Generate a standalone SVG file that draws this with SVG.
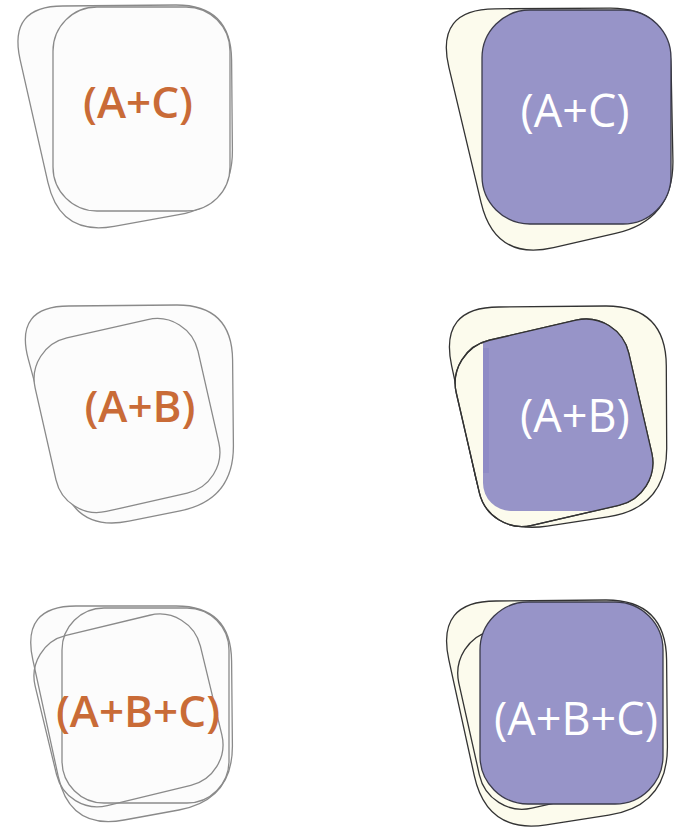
<svg xmlns="http://www.w3.org/2000/svg" width="675" height="833" viewBox="0 0 675 833">
  <defs>
    <style>
      .sk { fill: #fcfcfc; stroke: #8a8a8a; stroke-width: 1.3; }
      .sko { fill: none; stroke: #8a8a8a; stroke-width: 1.3; }
      .cr { fill: #fcfbed; stroke: #333333; stroke-width: 1.3; }
      .cro { fill: none; stroke: #333333; stroke-width: 1.3; }
      .pu { fill: #9794c8; stroke: #3a3a4a; stroke-width: 1.3; }
      .pf { fill: #9794c8; stroke: none; }
      .lo { font-family: "Open Sans", "Liberation Sans", sans-serif; font-weight: 600; font-size: 44px; fill: #c96b37; text-anchor: middle; }
      .lw { font-family: "Open Sans", "Liberation Sans", sans-serif; font-weight: 400; font-size: 45px; fill: #ffffff; text-anchor: middle; }
    </style>
    <clipPath id="clipC2">
      <rect x="483" y="280" width="200" height="231" rx="28"/>
    </clipPath>
  </defs>
  <rect x="0" y="0" width="675" height="833" fill="#ffffff"/>

  <!-- Row 1 left: (A+C) -->
  <g id="r1-left">
    <path class="sk" d="M63,6 L176,5 Q231,5 231.6,60 L232.4,150 Q233,205 178.9,214.7 L114.1,226.3 Q60,236 47.9,182.4 L20.1,59.6 Q8,6 63,6 Z"/>
    <rect class="sk" x="53" y="7" width="177" height="204" rx="44"/>
    <text class="lo" x="138" y="118">(A+C)</text>
  </g>

  <!-- Row 1 right: (A+C) -->
  <g id="r1-right">
    <path class="cr" d="M495,8.8 L610,8.2 Q670,8 671.1,68 L672.9,160 Q674,220 615.5,233.4 L553.5,247.6 Q495,261 481.1,202.6 L448.9,67.4 Q435,9 495,8.8 Z"/>
    <rect class="pu" x="482" y="10" width="189" height="214" rx="48"/>
    <text class="lw" x="575" y="127">(A+C)</text>
  </g>

  <!-- Row 2 left: (A+B) -->
  <g id="r2-left">
    <path class="sk" d="M69,306 L177,305 Q232,305 232.6,360 L233.4,445 Q234,500 180.1,510.8 L128.9,521.2 Q75,532 60.7,478.9 L28.3,359.1 Q14,306 69,306 Z"/>
    <rect class="sk" x="-83.5" y="-89" width="167" height="178" rx="42" transform="translate(127,415.5) rotate(-12.8)"/>
    <text class="lo" x="140" y="422">(A+B)</text>
  </g>

  <!-- Row 2 right: (A+B) -->
  <g id="r2-right">
    <path class="cr" d="M499,307 L606,306 Q666,306 666.3,366 L666.7,448 Q667,508 607.7,516.9 L547.3,526.1 Q488,535 475.4,476.3 L451.6,365.7 Q439,307 499,307 Z"/>
    <rect class="cr" x="-88.5" y="-95" width="177" height="190" rx="44" transform="translate(554,422.8) rotate(-13)"/>
    <g clip-path="url(#clipC2)">
      <rect class="pf" x="-88.5" y="-95" width="177" height="190" rx="44" transform="translate(554,422.8) rotate(-13)"/>
      <rect x="483" y="348" width="6" height="125" fill="#8e8bc5"/>
    </g>
    <rect class="cro" x="-88.5" y="-95" width="177" height="190" rx="44" transform="translate(554,422.8) rotate(-13)"/>
    <text class="lw" x="575" y="432">(A+B)</text>
  </g>

  <!-- Row 3 left: (A+B+C) -->
  <g id="r3-left">
    <path class="sk" d="M76,606 L176,606 Q231,606 231.6,661 L232.4,745 Q233,800 178.9,810 L124.1,820 Q70,830 58.2,776.3 L32.8,659.7 Q21,606 76,606 Z"/>
    <rect class="sko" x="-85" y="-87.6" width="170" height="175" rx="42" transform="translate(128.5,710.5) rotate(-13.6)"/>
    <rect class="sko" x="62" y="608" width="167" height="195" rx="42"/>
    <text class="lo" x="138" y="727">(A+B+C)</text>
  </g>

  <!-- Row 3 right: (A+B+C) -->
  <g id="r3-right">
    <path class="cr" d="M496,601 L606,600 Q666,600 666.6,660 L667.4,746 Q668,806 608.7,815.2 L546.3,824.8 Q487,834 474.2,775.4 L448.8,659.6 Q436,601 496,601 Z"/>
    <rect class="cr" x="-87" y="-91" width="174" height="182" rx="44" transform="translate(554,710) rotate(-12.6)"/>
    <rect class="pu" x="480" y="602" width="183" height="202" rx="48"/>
    <text class="lw" x="576" y="735">(A+B+C)</text>
  </g>
</svg>
